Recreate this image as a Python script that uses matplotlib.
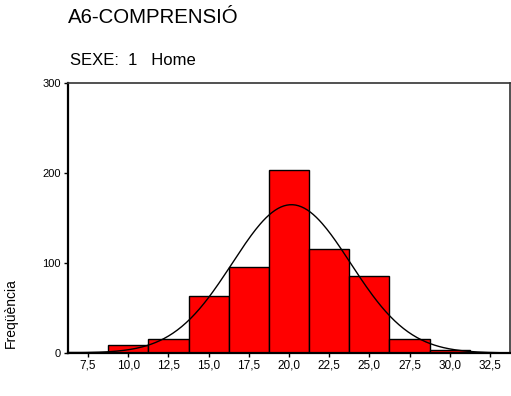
import numpy as np
import matplotlib.pyplot as plt

plt.rcParams['font.family'] = ['Liberation Sans', 'DejaVu Sans']

# bin centres (width 2.5) and counts
centres = [7.5, 10.0, 12.5, 15.0, 17.5, 20.0, 22.5, 25.0, 27.5, 30.0, 32.5]
counts = [1, 9, 16, 63, 95, 203, 115, 86, 16, 3, 0]
tick_labels = ['7,5', '10,0', '12,5', '15,0', '17,5', '20,0', '22,5', '25,0', '27,5', '30,0', '32,5']
width = 2.5

c = np.array(centres)
n = np.array(counts)
N = n.sum()
mean = (n * c).sum() / N
sd = np.sqrt((n * (c - mean) ** 2).sum() / (N - 1))

fig = plt.figure(figsize=(5.11, 3.96), dpi=100)
ax = fig.add_axes([0.133, 0.1086, 0.865, 0.6818])

ax.bar(c, n, width=width, color='#ff0000', edgecolor='black', linewidth=1.0, zorder=2)

# normal curve scaled to counts
xs = np.linspace(6.25, 33.75, 300)
ys = N * width / (sd * np.sqrt(2 * np.pi)) * np.exp(-0.5 * ((xs - mean) / sd) ** 2)
ax.plot(xs, ys, color='black', linewidth=1.0, zorder=3)

ax.set_xlim(6.25, 33.75)
ax.set_ylim(0, 300)
ax.set_xticks(c)
ax.set_xticklabels(tick_labels, fontsize=8.5)
ax.set_yticks([0, 100, 200, 300])
ax.set_yticklabels(['0', '100', '200', '300'], fontsize=8)
ax.tick_params(axis='both', length=3, width=1, pad=2)

for side in ['left', 'bottom']:
    ax.spines[side].set_linewidth(1.6)
for side in ['top', 'right']:
    ax.spines[side].set_linewidth(1.2)
    ax.spines[side].set_color('#333333')

fig.text(0.021, 0.21, 'Freqüència', rotation=90, fontsize=10, ha='center', va='center')
fig.text(0.133, 0.955, 'A6-COMPRENSIÓ', fontsize=14.7, ha='left', va='center')
fig.text(0.137, 0.848, 'SEXE:  1   Home', fontsize=12, ha='left', va='center')

fig.savefig('out.png', dpi=100)
